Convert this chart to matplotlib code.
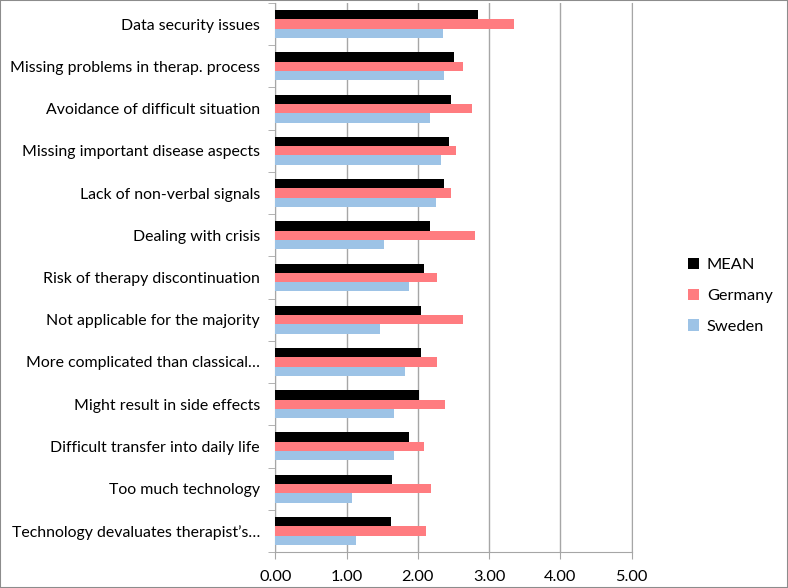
import matplotlib
matplotlib.use("Agg")
import matplotlib.pyplot as plt
import numpy as np
from matplotlib.ticker import FormatStrFormatter
from matplotlib.patches import Rectangle

categories = [
    "Data security issues",
    "Missing problems in therap. process",
    "Avoidance of difficult situation",
    "Missing important disease aspects",
    "Lack of non-verbal signals",
    "Dealing with crisis",
    "Risk of therapy discontinuation",
    "Not applicable for the majority",
    "More complicated than classical\u2026",
    "Might result in side effects",
    "Difficult transfer into daily life",
    "Too much technology",
    "Technology devaluates therapist\u2019s\u2026",
]
mean = [2.85, 2.50, 2.46, 2.44, 2.36, 2.17, 2.08, 2.05, 2.04, 2.02, 1.87, 1.63, 1.62]
germany = [3.35, 2.63, 2.76, 2.54, 2.46, 2.80, 2.27, 2.63, 2.27, 2.38, 2.08, 2.19, 2.11]
sweden = [2.35, 2.37, 2.17, 2.33, 2.26, 1.53, 1.88, 1.47, 1.82, 1.66, 1.66, 1.08, 1.13]

plt.rcParams['font.family'] = ['Lato', 'DejaVu Sans']

fig = plt.figure(figsize=(7.88, 5.88), dpi=100)
ax = fig.add_axes([0.3494, 0.0612, 0.4523, 0.9337])

y = np.arange(len(categories))
h = 0.22
ax.barh(y - h, mean, height=h, color="#000000", label="MEAN", zorder=3)
ax.barh(y, germany, height=h, color="#FF7C80", label="Germany", zorder=3)
ax.barh(y + h, sweden, height=h, color="#9DC3E6", label="Sweden", zorder=3)

ax.set_ylim(len(categories) - 0.5, -0.5)
ax.set_xlim(0, 5)
ax.set_xticks([0, 1, 2, 3, 4, 5])
ax.xaxis.set_major_formatter(FormatStrFormatter("%.2f"))
ax.grid(axis="x", color="#a6a6a6", linewidth=1, zorder=0)

ax.set_yticks(y)
ax.set_yticklabels(categories, fontsize=11.4)
ax.set_yticks(np.arange(len(categories) + 1) - 0.5, minor=True)
ax.tick_params(axis="y", which="major", length=0, pad=11)
ax.tick_params(axis="y", which="minor", length=5, color="#a6a6a6", direction="out")
ax.tick_params(axis="x", length=5, color="#a6a6a6", labelsize=11.8, pad=8)

ax.spines["top"].set_visible(False)
for s in ["left", "bottom", "right"]:
    ax.spines[s].set_color("#a6a6a6")

fig.legend(loc="center left", bbox_to_anchor=(0.873, 0.497), frameon=False,
           fontsize=11.8, handlelength=0.7, handleheight=0.7, handletextpad=0.45,
           labelspacing=1.0, borderpad=0, borderaxespad=0)

fig.patches.append(Rectangle((0, 0), 1, 1, transform=fig.transFigure,
                             fill=False, edgecolor="#8c8c8c", linewidth=1.5))

fig.savefig("out.png", dpi=100)
